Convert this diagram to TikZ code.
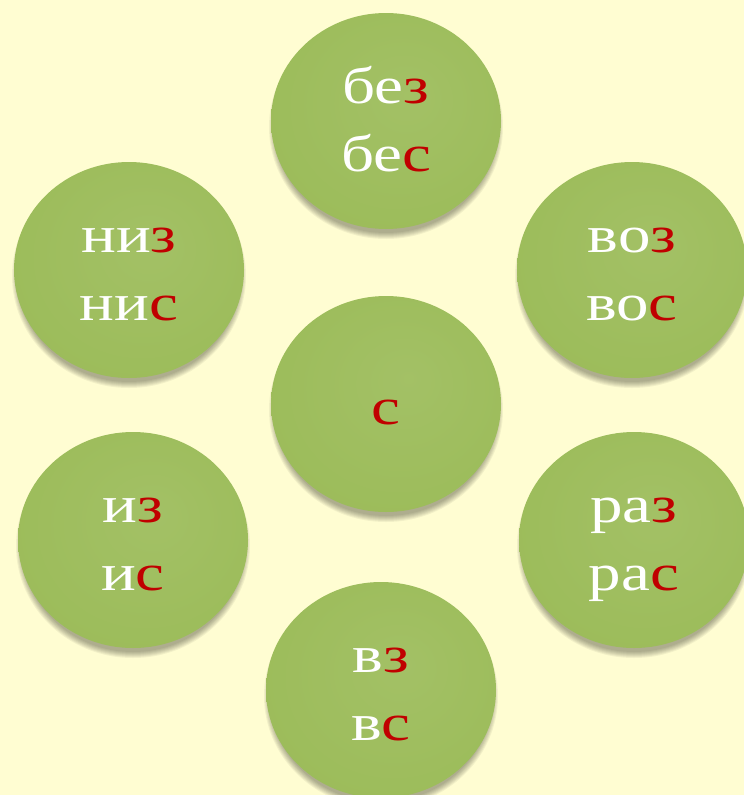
\documentclass[tikz,border=0pt]{standalone}
\usepackage{fontspec}
\setmainfont{Liberation Serif}
\usetikzlibrary{shapes.geometric,calc}
\definecolor{bg}{HTML}{FFFDD2}
\definecolor{gin}{HTML}{9CBC5A}
\definecolor{gmid}{HTML}{94B553}
\definecolor{gedge}{HTML}{7E9C45}
\definecolor{rd}{HTML}{C00000}
\pgfdeclareradialshading{bevel}{\pgfpoint{5bp}{6bp}}{color(0bp)=(gin!93!white); color(30bp)=(gin); color(43bp)=(gin); color(48bp)=(gmid); color(50bp)=(gedge)}
\pgfdeclarelayer{bgl}
\pgfsetlayers{bgl,main}
\newcommand\sx[1]{\scalebox{1.25}[1]{#1}}
\begin{document}
\begin{tikzpicture}[x=1pt,y=-1pt,
  bub/.style={ellipse, minimum width=230pt, minimum height=216pt, inner sep=0pt, shading=bevel},
  txt/.style={anchor=base, text=white, font=\fontsize{52}{52}\selectfont, inner sep=0pt}]
\useasboundingbox (0,0) rectangle (744,795);
\begin{pgfonlayer}{bgl}
\fill[bg] (0,0) rectangle (744,795);
\end{pgfonlayer}
% circles
\node[bub] (T)  at (386,121) {};
\node[bub] (LT) at (129,270) {};
\node[bub] (RT) at (632,270) {};
\node[bub] (C)  at (386,404) {};
\node[bub] (LB) at (133,540) {};
\node[bub] (RB) at (634,540) {};
\node[bub] (B)  at (381,690) {};
% shadows
\begin{pgfonlayer}{bgl}
\foreach \n in {T,LT,RT,C,LB,RB,B}{
  \foreach \k in {0,...,6}{
    \fill[black, opacity=0.05] ($(\n)+(0,6)$) ellipse [x radius={(117-\k)*1pt}, y radius={(112-\k)*1pt}];
  }
}
\end{pgfonlayer}
% texts
\node[txt] (T1)  at ($(T)+(0,-18)$)  {\sx{бе\textcolor{rd}{з}}};
\node[txt] (T2)  at ($(T)+(0,50)$)   {\sx{бе\textcolor{rd}{с}}};
\node[txt] (LT1) at ($(LT)+(0,-18)$) {\sx{ни\textcolor{rd}{з}}};
\node[txt] (LT2) at ($(LT)+(0,50)$)  {\sx{ни\textcolor{rd}{с}}};
\node[txt] (RT1) at ($(RT)+(0,-18)$) {\sx{во\textcolor{rd}{з}}};
\node[txt] (RT2) at ($(RT)+(0,50)$)  {\sx{во\textcolor{rd}{с}}};
\node[txt] (C1)  at ($(C)+(0,20)$)   {\sx{\textcolor{rd}{с}}};
\node[txt] (LB1) at ($(LB)+(0,-18)$) {\sx{и\textcolor{rd}{з}}};
\node[txt] (LB2) at ($(LB)+(0,50)$)  {\sx{и\textcolor{rd}{с}}};
\node[txt] (RB1) at ($(RB)+(0,-18)$) {\sx{ра\textcolor{rd}{з}}};
\node[txt] (RB2) at ($(RB)+(0,50)$)  {\sx{ра\textcolor{rd}{с}}};
\node[txt] (B1)  at ($(B)+(0,-18)$)  {\sx{в\textcolor{rd}{з}}};
\node[txt] (B2)  at ($(B)+(0,50)$)   {\sx{в\textcolor{rd}{с}}};
\end{tikzpicture}
\end{document}
